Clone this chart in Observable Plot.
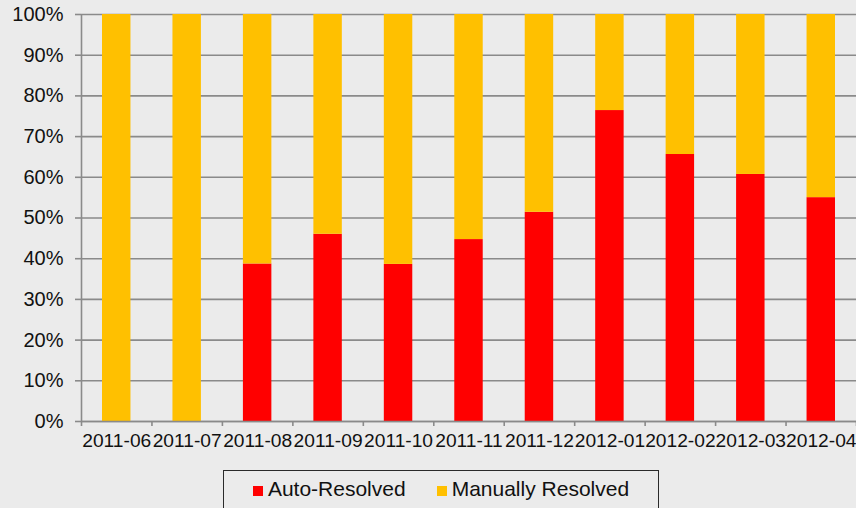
<!DOCTYPE html>
<html>
<head>
<meta charset="utf-8">
<script src="https://cdn.jsdelivr.net/npm/d3@7"></script>
<script src="https://cdn.jsdelivr.net/npm/@observablehq/plot@0.6"></script>
<style>
  html, body { margin: 0; padding: 0; background: #ebebeb; overflow: hidden; }
  #chart svg { display: block; }
  .legend {
    position: absolute; left: 223px; top: 470px; width: 434px; height: 60px;
    border: 1px solid #2a2a2a; box-sizing: content-box;
    font-family: "Liberation Sans", Arial, sans-serif; font-size: 21px; color: #111;
    display: flex; justify-content: center; gap: 31px; padding-top: 6px; line-height: 24px;
  }
  .legend .sw { display: inline-block; width: 10px; height: 10px; margin-right: 5px; }
</style>
</head>
<body>
<div id="chart"></div>
<div class="legend" id="legend"></div>
<script>
// Monthly share of incidents that were auto-resolved vs. resolved manually
const months = ["2011-06", "2011-07", "2011-08", "2011-09", "2011-10", "2011-11",
                "2011-12", "2012-01", "2012-02", "2012-03", "2012-04"];
const autoResolvedPct = [0, 0, 38.7, 46.0, 38.6, 44.7, 51.4, 76.4, 65.6, 60.7, 55.0];
const seriesNames = ["Auto-Resolved", "Manually Resolved"];
const seriesColors = ["#ff0000", "#ffc000"];
const yTicks = [0, 10, 20, 30, 40, 50, 60, 70, 80, 90, 100];

// One rectangle per month and series; manual share fills the rest up to 100%
const rows = months.flatMap((m, i) => [
  {i, month: m, series: seriesNames[0], y1: 0, y2: autoResolvedPct[i]},
  {i, month: m, series: seriesNames[1], y1: autoResolvedPct[i], y2: 100}
]);

const axisGrey = "#8a8a8a";

const chart = Plot.plot({
  width: 856,
  height: 466,
  marginTop: 14,
  marginBottom: 45,
  marginLeft: 81,
  marginRight: 0,
  style: {fontFamily: "Liberation Sans, Arial, sans-serif", color: "#111", background: "#ebebeb"},
  x: {domain: [0, months.length]},
  y: {domain: [0, 100]},
  color: {domain: seriesNames, range: seriesColors},
  marks: [
    Plot.gridY(yTicks, {stroke: axisGrey, strokeOpacity: 1, strokeWidth: 1.6}),
    Plot.rectY(rows, {
      x1: "i", x2: d => d.i + 1, y1: "y1", y2: "y2", fill: "series",
      insetLeft: 21, insetRight: 21
    }),
    Plot.ruleX([0], {stroke: axisGrey, strokeWidth: 1.6}),
    Plot.ruleY([0], {stroke: axisGrey, strokeWidth: 1.6}),
    Plot.axisY(yTicks, {
      tickSize: 6, tickPadding: 12, fontSize: 20, stroke: axisGrey, strokeWidth: 1.6,
      tickFormat: d => d + "%", label: null
    }),
    // category boundary ticks
    Plot.axisX(d3.range(months.length + 1), {
      tickSize: 5, stroke: axisGrey, strokeWidth: 1.6, tickFormat: () => "", label: null
    }),
    // month labels centred in each category
    Plot.axisX(months.map((m, i) => i + 0.5), {
      tickSize: 0, tickPadding: 12, fontSize: 19.2,
      tickFormat: d => months[Math.floor(d)], label: null
    })
  ]
});
document.getElementById("chart").appendChild(chart);

const legend = document.getElementById("legend");
seriesNames.forEach((name, k) => {
  const item = document.createElement("span");
  const sw = document.createElement("span");
  sw.className = "sw";
  sw.style.background = seriesColors[k];
  item.appendChild(sw);
  item.appendChild(document.createTextNode(name));
  legend.appendChild(item);
});
</script>
</body>
</html>
